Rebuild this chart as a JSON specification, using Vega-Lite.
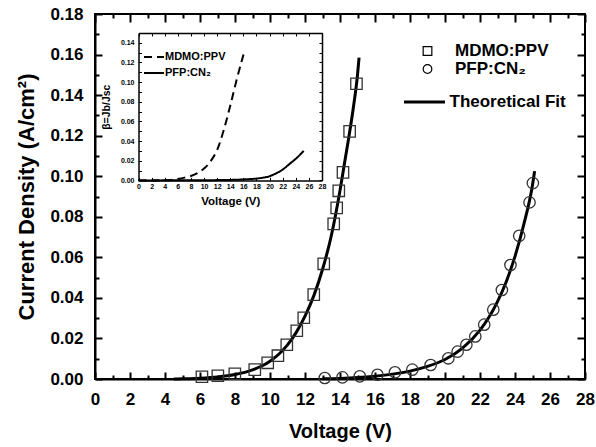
{
  "$schema": "https://vega.github.io/schema/vega-lite/v6.json",
  "autosize": "none",
  "width": 490,
  "height": 365,
  "padding": {"left": 95, "top": 14, "right": 11, "bottom": 68},
  "background": "white",
  "config": {
    "view": {"stroke": "black", "strokeWidth": 2},
    "font": "Liberation Sans",
    "axis": {
      "grid": false,
      "domainColor": "black",
      "domainWidth": 2,
      "tickColor": "black",
      "tickOpacity": 1,
      "tickWidth": 2,
      "labelColor": "black",
      "titleColor": "black",
      "labelFont": "Liberation Sans",
      "titleFont": "Liberation Sans",
      "labelFontWeight": "bold",
      "titleFontWeight": "bold",
      "labelFlush": false,
      "labelOverlap": false
    }
  },
  "datasets": {
    "points": [
      {"series": "MDMO:PPV", "V": 6.11, "J": 0.0011},
      {"series": "MDMO:PPV", "V": 7.02, "J": 0.0016},
      {"series": "MDMO:PPV", "V": 7.99, "J": 0.0026},
      {"series": "MDMO:PPV", "V": 9.13, "J": 0.0046},
      {"series": "MDMO:PPV", "V": 9.87, "J": 0.0080},
      {"series": "MDMO:PPV", "V": 10.45, "J": 0.0115},
      {"series": "MDMO:PPV", "V": 10.96, "J": 0.0169},
      {"series": "MDMO:PPV", "V": 11.53, "J": 0.0238},
      {"series": "MDMO:PPV", "V": 11.93, "J": 0.0302},
      {"series": "MDMO:PPV", "V": 12.5, "J": 0.0416},
      {"series": "MDMO:PPV", "V": 13.07, "J": 0.0568},
      {"series": "MDMO:PPV", "V": 13.64, "J": 0.0765},
      {"series": "MDMO:PPV", "V": 13.81, "J": 0.0844},
      {"series": "MDMO:PPV", "V": 13.93, "J": 0.0928},
      {"series": "MDMO:PPV", "V": 14.17, "J": 0.1019},
      {"series": "MDMO:PPV", "V": 14.55, "J": 0.1221},
      {"series": "MDMO:PPV", "V": 14.94, "J": 0.1456},
      {"series": "PFP:CN₂", "V": 13.13, "J": 0.0005},
      {"series": "PFP:CN₂", "V": 14.14, "J": 0.0008},
      {"series": "PFP:CN₂", "V": 15.13, "J": 0.0013},
      {"series": "PFP:CN₂", "V": 16.14, "J": 0.0021},
      {"series": "PFP:CN₂", "V": 17.14, "J": 0.0033},
      {"series": "PFP:CN₂", "V": 18.13, "J": 0.0046},
      {"series": "PFP:CN₂", "V": 19.18, "J": 0.0069},
      {"series": "PFP:CN₂", "V": 20.19, "J": 0.0102},
      {"series": "PFP:CN₂", "V": 20.72, "J": 0.0135},
      {"series": "PFP:CN₂", "V": 21.22, "J": 0.0169},
      {"series": "PFP:CN₂", "V": 21.73, "J": 0.0210},
      {"series": "PFP:CN₂", "V": 22.24, "J": 0.0268},
      {"series": "PFP:CN₂", "V": 22.76, "J": 0.0342},
      {"series": "PFP:CN₂", "V": 23.25, "J": 0.0439},
      {"series": "PFP:CN₂", "V": 23.74, "J": 0.0562},
      {"series": "PFP:CN₂", "V": 24.24, "J": 0.0706},
      {"series": "PFP:CN₂", "V": 24.83, "J": 0.0871},
      {"series": "PFP:CN₂", "V": 25.02, "J": 0.0966}
    ],
    "fit": [
      {"curve": "MDMO", "V": 4.5, "J": 0},
      {"curve": "MDMO", "V": 5, "J": 0.0001},
      {"curve": "MDMO", "V": 6, "J": 0.0004},
      {"curve": "MDMO", "V": 7, "J": 0.0010},
      {"curve": "MDMO", "V": 8, "J": 0.0022},
      {"curve": "MDMO", "V": 9, "J": 0.0045},
      {"curve": "MDMO", "V": 9.5, "J": 0.0063},
      {"curve": "MDMO", "V": 10, "J": 0.0088},
      {"curve": "MDMO", "V": 10.5, "J": 0.0122},
      {"curve": "MDMO", "V": 11, "J": 0.0168},
      {"curve": "MDMO", "V": 11.5, "J": 0.0230},
      {"curve": "MDMO", "V": 12, "J": 0.0310},
      {"curve": "MDMO", "V": 12.5, "J": 0.0410},
      {"curve": "MDMO", "V": 13, "J": 0.0540},
      {"curve": "MDMO", "V": 13.5, "J": 0.0705},
      {"curve": "MDMO", "V": 14, "J": 0.0930},
      {"curve": "MDMO", "V": 14.25, "J": 0.1060},
      {"curve": "MDMO", "V": 14.5, "J": 0.1190},
      {"curve": "MDMO", "V": 14.75, "J": 0.1330},
      {"curve": "MDMO", "V": 15, "J": 0.1500},
      {"curve": "MDMO", "V": 15.09, "J": 0.1585},
      {"curve": "PFP", "V": 13, "J": 0.0001},
      {"curve": "PFP", "V": 14, "J": 0.0003},
      {"curve": "PFP", "V": 15, "J": 0.0007},
      {"curve": "PFP", "V": 16, "J": 0.0014},
      {"curve": "PFP", "V": 17, "J": 0.0024},
      {"curve": "PFP", "V": 18, "J": 0.0039},
      {"curve": "PFP", "V": 19, "J": 0.0062},
      {"curve": "PFP", "V": 20, "J": 0.0096},
      {"curve": "PFP", "V": 21, "J": 0.0152},
      {"curve": "PFP", "V": 22, "J": 0.0241},
      {"curve": "PFP", "V": 22.5, "J": 0.0303},
      {"curve": "PFP", "V": 23, "J": 0.0382},
      {"curve": "PFP", "V": 23.5, "J": 0.0480},
      {"curve": "PFP", "V": 24, "J": 0.0605},
      {"curve": "PFP", "V": 24.5, "J": 0.0761},
      {"curve": "PFP", "V": 25, "J": 0.0957},
      {"curve": "PFP", "V": 25.12, "J": 0.1025}
    ],
    "inset": [
      {"set": "MDMO:PPV", "V": 0, "b": 0},
      {"set": "MDMO:PPV", "V": 4, "b": 0.0002},
      {"set": "MDMO:PPV", "V": 5, "b": 0.0005},
      {"set": "MDMO:PPV", "V": 6, "b": 0.0015},
      {"set": "MDMO:PPV", "V": 7, "b": 0.0028},
      {"set": "MDMO:PPV", "V": 8, "b": 0.0045},
      {"set": "MDMO:PPV", "V": 9, "b": 0.0075},
      {"set": "MDMO:PPV", "V": 10, "b": 0.0120},
      {"set": "MDMO:PPV", "V": 11, "b": 0.0195},
      {"set": "MDMO:PPV", "V": 12, "b": 0.0310},
      {"set": "MDMO:PPV", "V": 13, "b": 0.0510},
      {"set": "MDMO:PPV", "V": 14, "b": 0.0760},
      {"set": "MDMO:PPV", "V": 15, "b": 0.1030},
      {"set": "MDMO:PPV", "V": 16.1, "b": 0.1300},
      {"set": "PFP:CN₂", "V": 0, "b": 0},
      {"set": "PFP:CN₂", "V": 8, "b": 0.0001},
      {"set": "PFP:CN₂", "V": 12, "b": 0.0003},
      {"set": "PFP:CN₂", "V": 14, "b": 0.0005},
      {"set": "PFP:CN₂", "V": 16, "b": 0.0010},
      {"set": "PFP:CN₂", "V": 18, "b": 0.0019},
      {"set": "PFP:CN₂", "V": 19, "b": 0.0028},
      {"set": "PFP:CN₂", "V": 20, "b": 0.0042},
      {"set": "PFP:CN₂", "V": 20.5, "b": 0.0056},
      {"set": "PFP:CN₂", "V": 21, "b": 0.0072},
      {"set": "PFP:CN₂", "V": 22, "b": 0.0110},
      {"set": "PFP:CN₂", "V": 22.6, "b": 0.0142},
      {"set": "PFP:CN₂", "V": 23, "b": 0.0165},
      {"set": "PFP:CN₂", "V": 24, "b": 0.0220},
      {"set": "PFP:CN₂", "V": 25.2, "b": 0.0300}
    ]
  },
  "resolve": {
    "scale": {"x": "independent", "y": "independent"},
    "axis": {"x": "independent", "y": "independent"}
  },
  "layer": [
    {
      "data": {"name": "fit"},
      "mark": {"type": "line", "strokeWidth": 3, "interpolate": "monotone"},
      "encoding": {
        "x": {
          "field": "V", "type": "quantitative",
          "scale": {"domain": [0, 28], "nice": false, "zero": false},
          "axis": {
            "orient": "bottom",
            "values": [0,2,4,6,8,10,12,14,16,18,20,22,24,26,28],
            "ticks": false,
            "labelFontSize": 17,
            "labelPadding": 12,
            "title": "Voltage (V)",
            "titleFontSize": 20,
            "titlePadding": 14
          }
        },
        "y": {
          "field": "J", "type": "quantitative",
          "scale": {"domain": [0, 0.18], "nice": false, "zero": false},
          "axis": {
            "orient": "left",
            "values": [0,0.02,0.04,0.06,0.08,0.1,0.12,0.14,0.16,0.18],
            "format": ".2f",
            "ticks": false,
            "labelFontSize": 17,
            "labelPadding": 12,
            "title": "Current Density (A/cm²)",
            "titleFontSize": 22,
            "titlePadding": 11
          }
        },
        "detail": {"field": "curve"},
        "color": {
          "datum": "Theoretical Fit", "type": "nominal",
          "scale": {"domain": ["Theoretical Fit"], "range": ["black"]},
          "legend": {
            "orient": "none",
            "legendX": 307.5,
            "legendY": 66,
            "title": null,
            "padding": 0,
            "symbolType": "stroke",
            "symbolSize": 1681,
            "symbolStrokeWidth": 3,
            "symbolStrokeColor": "black",
            "labelFont": "Liberation Sans",
            "labelFontSize": 17,
            "labelFontWeight": "bold",
            "labelColor": "black",
            "labelOffset": 3
          }
        }
      }
    },
    {
      "data": {"name": "points"},
      "mark": {"type": "point", "filled": false, "stroke": "#333333", "strokeWidth": 1.3, "size": 130, "opacity": 1},
      "encoding": {
        "x": {"field": "V", "type": "quantitative", "scale": {"domain": [0, 28], "nice": false, "zero": false}, "axis": null},
        "y": {"field": "J", "type": "quantitative", "scale": {"domain": [0, 0.18], "nice": false, "zero": false}, "axis": null},
        "shape": {
          "field": "series", "type": "nominal",
          "scale": {"domain": ["MDMO:PPV", "PFP:CN₂"], "range": ["square", "circle"]},
          "legend": {
            "orient": "none",
            "legendX": 324,
            "legendY": 28.5,
            "title": null,
            "padding": 0,
            "symbolSize": 75,
            "symbolStrokeWidth": 1.2,
            "symbolStrokeColor": "black",
            "symbolFillColor": "transparent",
            "labelFont": "Liberation Sans",
            "labelFontSize": 17,
            "labelFontWeight": "bold",
            "labelColor": "black",
            "labelOffset": 19,
            "rowPadding": 0
          }
        }
      }
    },
    {
      "data": {"name": "fit"},
      "mark": {"type": "point", "opacity": 0},
      "encoding": {
        "x": {
          "field": "V", "type": "quantitative",
          "scale": {"domain": [0, 28], "nice": false, "zero": false},
          "axis": {"orient": "bottom", "offset": -7, "values": [0,2,4,6,8,10,12,14,16,18,20,22,24,26,28], "tickSize": 7, "tickColor": "black", "labelExpr": "''", "domain": false, "title": null}
        },
        "y": {
          "field": "J", "type": "quantitative",
          "scale": {"domain": [0, 0.18], "nice": false, "zero": false},
          "axis": {"orient": "left", "offset": -7, "values": [0,0.02,0.04,0.06,0.08,0.1,0.12,0.14,0.16,0.18], "tickSize": 7, "tickColor": "black", "labelExpr": "''", "domain": false, "title": null}
        }
      }
    },
    {
      "data": {"name": "fit"},
      "mark": {"type": "point", "opacity": 0},
      "encoding": {
        "x": {
          "field": "V", "type": "quantitative",
          "scale": {"domain": [0, 28], "nice": false, "zero": false},
          "axis": {"orient": "bottom", "offset": -4, "values": [1,3,5,7,9,11,13,15,17,19,21,23,25,27], "tickSize": 4, "tickColor": "black", "labelExpr": "''", "domain": false, "title": null}
        },
        "y": {
          "field": "J", "type": "quantitative",
          "scale": {"domain": [0, 0.18], "nice": false, "zero": false},
          "axis": {"orient": "left", "offset": -4, "values": [0.01,0.03,0.05,0.07,0.09,0.11,0.13,0.15,0.17], "tickSize": 4, "tickColor": "black", "labelExpr": "''", "domain": false, "title": null}
        }
      }
    },
    {
      "data": {"name": "fit"},
      "mark": {"type": "point", "opacity": 0},
      "encoding": {
        "x": {
          "field": "V", "type": "quantitative",
          "scale": {"domain": [0, 28], "nice": false, "zero": false},
          "axis": {"orient": "top", "offset": -8, "values": [0,2,4,6,8,10,12,14,16,18,20,22,24,26,28], "tickSize": 8, "tickColor": "black", "labelExpr": "''", "domain": false, "title": null}
        },
        "y": {
          "field": "J", "type": "quantitative",
          "scale": {"domain": [0, 0.18], "nice": false, "zero": false},
          "axis": {"orient": "right", "offset": -8, "values": [0,0.02,0.04,0.06,0.08,0.1,0.12,0.14,0.16,0.18], "tickSize": 8, "tickColor": "black", "labelExpr": "''", "domain": false, "title": null}
        }
      }
    },
    {
      "data": {"name": "fit"},
      "mark": {"type": "point", "opacity": 0},
      "encoding": {
        "x": {
          "field": "V", "type": "quantitative",
          "scale": {"domain": [0, 28], "nice": false, "zero": false},
          "axis": {"orient": "top", "offset": -4, "values": [1,3,5,7,9,11,13,15,17,19,21,23,25,27], "tickSize": 4, "tickColor": "black", "labelExpr": "''", "domain": false, "title": null}
        },
        "y": {
          "field": "J", "type": "quantitative",
          "scale": {"domain": [0, 0.18], "nice": false, "zero": false},
          "axis": {"orient": "right", "offset": -4, "values": [0.01,0.03,0.05,0.07,0.09,0.11,0.13,0.15,0.17], "tickSize": 4, "tickColor": "black", "labelExpr": "''", "domain": false, "title": null}
        }
      }
    },
    {
      "data": {"name": "inset"},
      "mark": {"type": "line", "color": "black", "strokeWidth": 2, "interpolate": "monotone"},
      "encoding": {
        "x": {
          "field": "V", "type": "quantitative",
          "scale": {"domain": [0, 28], "nice": false, "zero": false, "range": [43.5, 227]},
          "axis": {
            "orient": "bottom",
            "offset": -198.6,
            "values": [0,2,4,6,8,10,12,14,16,18,20,22,24,26,28],
            "ticks": false,
            "domainWidth": 1.5,
            "labelFontSize": 7,
            "labelPadding": 2.5,
            "title": "Voltage (V)",
            "titleFontSize": 11.5,
            "titlePadding": 6
          }
        },
        "y": {
          "field": "b", "type": "quantitative",
          "scale": {"domain": [0, 0.15], "nice": false, "zero": false, "range": [166.4, 19]},
          "axis": {
            "orient": "left",
            "offset": -43.5,
            "values": [0,0.02,0.04,0.06,0.08,0.1,0.12,0.14],
            "format": ".2f",
            "ticks": false,
            "domainWidth": 1.5,
            "labelFontSize": 7,
            "labelPadding": 4.5,
            "title": "β=Jb/Jsc",
            "titleFontSize": 10.5,
            "titlePadding": 9
          }
        },
        "strokeDash": {
          "field": "set", "type": "nominal",
          "scale": {"range": [[8, 5], [1, 0]]},
          "legend": {
            "orient": "none",
            "legendX": 48,
            "legendY": 32,
            "title": null,
            "padding": 0,
            "symbolType": "stroke",
            "symbolSize": 400,
            "symbolStrokeWidth": 2,
            "symbolStrokeColor": "black",
            "labelFont": "Liberation Sans",
            "labelFontSize": 11,
            "labelFontWeight": "bold",
            "labelColor": "black",
            "labelOffset": 0,
            "rowPadding": 0
          }
        }
      }
    },
    {
      "data": {"name": "inset"},
      "mark": {"type": "point", "opacity": 0},
      "encoding": {
        "x": {
          "field": "V", "type": "quantitative",
          "scale": {"domain": [0, 28], "nice": false, "zero": false, "range": [43.5, 227]},
          "axis": {"orient": "top", "offset": -19, "ticks": false, "domainWidth": 1.5, "labels": false, "title": null}
        },
        "y": {
          "field": "b", "type": "quantitative",
          "scale": {"domain": [0, 0.15], "nice": false, "zero": false, "range": [166.4, 19]},
          "axis": {"orient": "right", "offset": -263, "ticks": false, "domainWidth": 1.5, "labels": false, "title": null}
        }
      }
    },
    {
      "data": {"name": "inset"},
      "mark": {"type": "point", "opacity": 0},
      "encoding": {
        "x": {
          "field": "V", "type": "quantitative",
          "scale": {"domain": [0, 28], "nice": false, "zero": false, "range": [43.5, 227]},
          "axis": {"orient": "bottom", "offset": -201.6, "values": [0,2,4,6,8,10,12,14,16,18,20,22,24,26,28], "tickSize": 3, "tickWidth": 1, "tickColor": "black", "labelExpr": "''", "domain": false, "title": null}
        },
        "y": {
          "field": "b", "type": "quantitative",
          "scale": {"domain": [0, 0.15], "nice": false, "zero": false, "range": [166.4, 19]},
          "axis": {"orient": "left", "offset": -46.5, "values": [0,0.01,0.02,0.03,0.04,0.05,0.06,0.07,0.08,0.09,0.1,0.11,0.12,0.13,0.14,0.15], "tickSize": 3, "tickWidth": 1, "tickColor": "black", "labelExpr": "''", "domain": false, "title": null}
        }
      }
    },
    {
      "data": {"name": "inset"},
      "mark": {"type": "point", "opacity": 0},
      "encoding": {
        "x": {
          "field": "V", "type": "quantitative",
          "scale": {"domain": [0, 28], "nice": false, "zero": false, "range": [43.5, 227]},
          "axis": {"orient": "top", "offset": -22, "values": [0,2,4,6,8,10,12,14,16,18,20,22,24,26,28], "tickSize": 3, "tickWidth": 1, "tickColor": "black", "labelExpr": "''", "domain": false, "title": null}
        },
        "y": {
          "field": "b", "type": "quantitative",
          "scale": {"domain": [0, 0.15], "nice": false, "zero": false, "range": [166.4, 19]},
          "axis": {"orient": "right", "offset": -266, "values": [0,0.01,0.02,0.03,0.04,0.05,0.06,0.07,0.08,0.09,0.1,0.11,0.12,0.13,0.14,0.15], "tickSize": 3, "tickWidth": 1, "tickColor": "black", "labelExpr": "''", "domain": false, "title": null}
        }
      }
    }
  ]
}
